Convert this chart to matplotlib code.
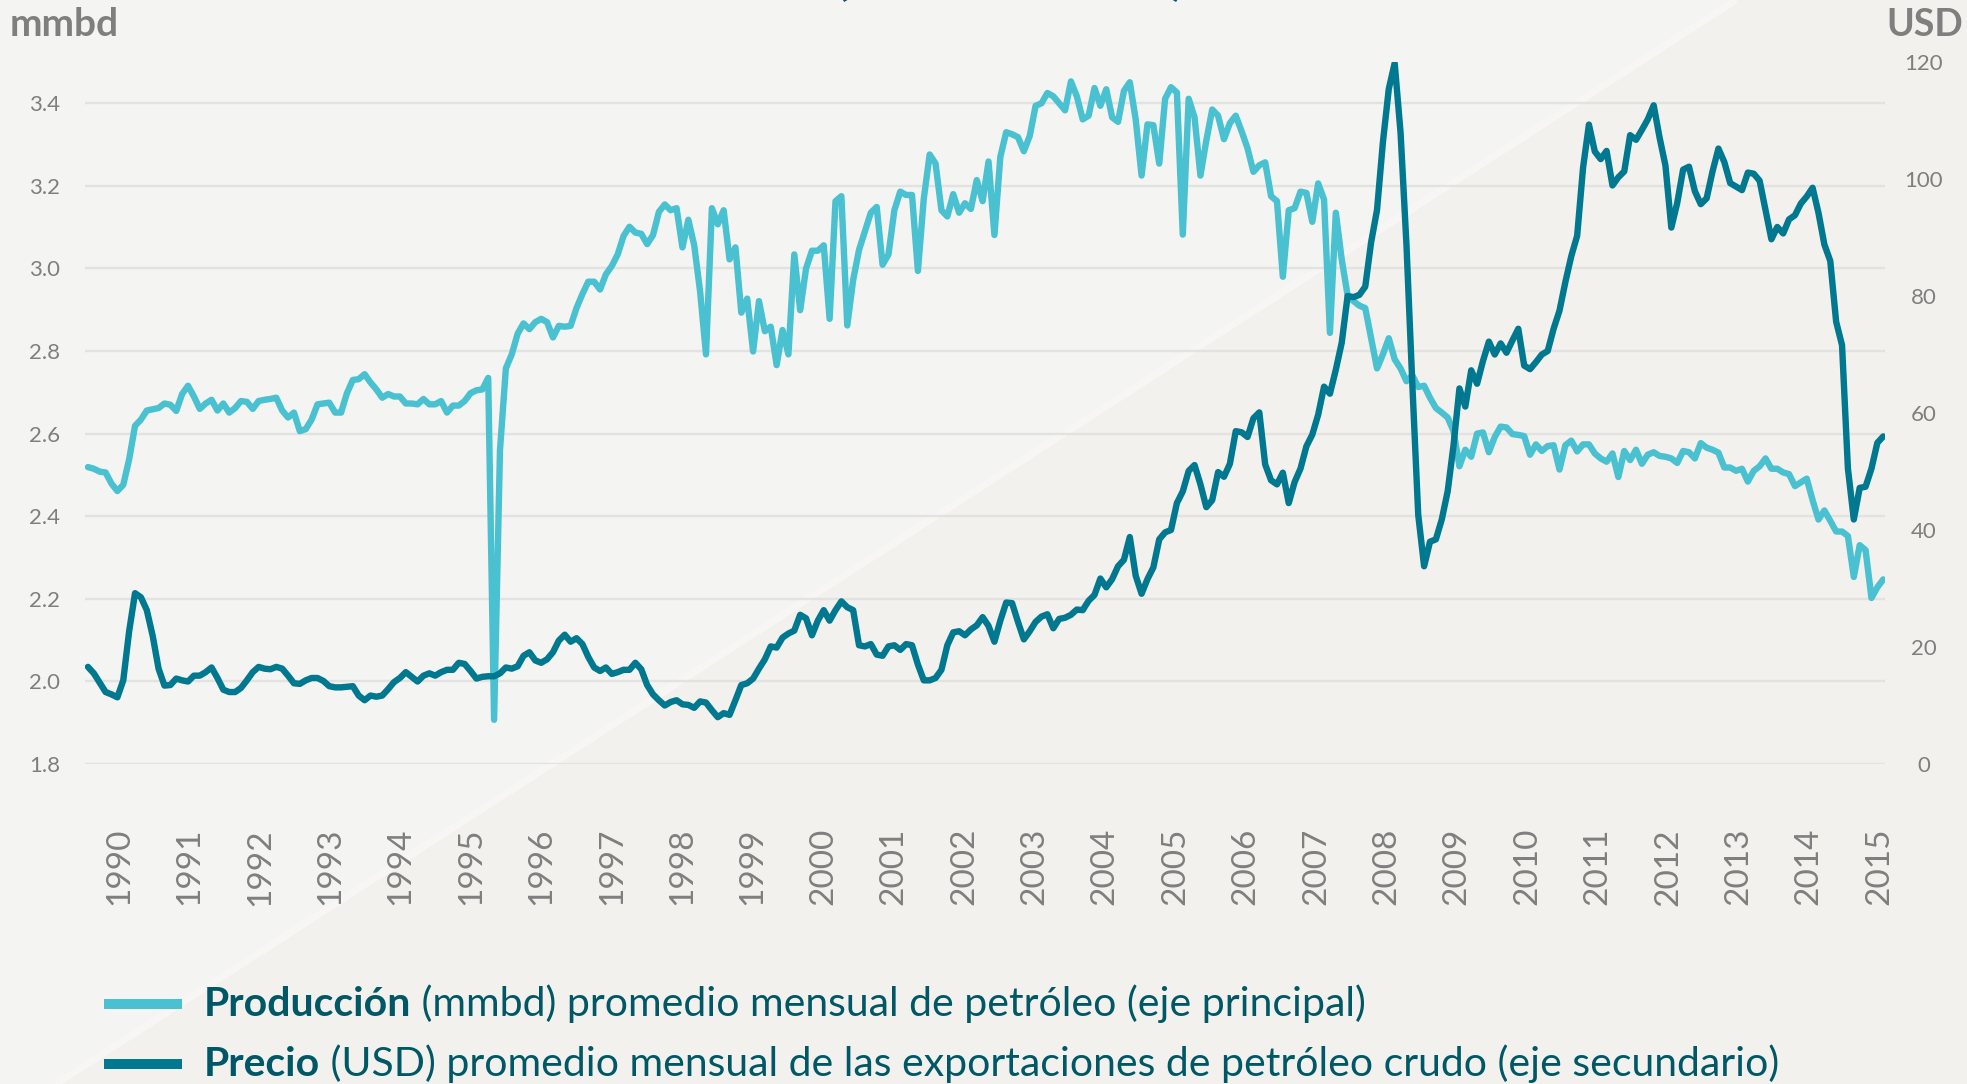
import matplotlib
matplotlib.use('Agg')
import matplotlib.pyplot as plt
import numpy as np
from matplotlib.patches import Polygon, Rectangle

# ---------------- data ----------------
years = [str(y) for y in range(1990, 2016)]

# Producción (mmbd), monthly Jan-1990 .. Jun-2015
produccion = [
    2.519, 2.515, 2.508, 2.506, 2.479, 2.461, 2.476, 2.538, 2.619, 2.634, 2.656, 2.659,
    2.662, 2.673, 2.670, 2.655, 2.696, 2.716, 2.690, 2.660, 2.673, 2.682, 2.656, 2.673,
    2.651, 2.662, 2.679, 2.677, 2.660, 2.679, 2.682, 2.684, 2.687, 2.656, 2.639, 2.651,
    2.606, 2.611, 2.634, 2.671, 2.673, 2.675, 2.651, 2.651, 2.698, 2.730, 2.732, 2.744,
    2.724, 2.707, 2.687, 2.696, 2.690, 2.690, 2.673, 2.673, 2.671, 2.684, 2.671, 2.671,
    2.679, 2.651, 2.668, 2.668, 2.679, 2.698, 2.705, 2.707, 2.735, 1.907, 2.560, 2.758,
    2.792, 2.842, 2.867, 2.853, 2.870, 2.878, 2.870, 2.833, 2.861, 2.859, 2.861, 2.904,
    2.938, 2.968, 2.968, 2.949, 2.986, 3.006, 3.034, 3.079, 3.101, 3.087, 3.084, 3.059,
    3.081, 3.137, 3.155, 3.141, 3.146, 3.051, 3.118, 3.056, 2.944, 2.792, 3.146, 3.107,
    3.141, 3.022, 3.051, 2.893, 2.927, 2.799, 2.921, 2.848, 2.859, 2.766, 2.851, 2.792,
    3.034, 2.899, 3.000, 3.043, 3.043, 3.056, 2.878, 3.163, 3.175, 2.862, 2.972, 3.045,
    3.090, 3.135, 3.149, 3.009, 3.034, 3.141, 3.186, 3.178, 3.178, 2.994, 3.169, 3.276,
    3.254, 3.141, 3.126, 3.180, 3.135, 3.158, 3.144, 3.214, 3.163, 3.259, 3.081, 3.270,
    3.330, 3.325, 3.318, 3.284, 3.321, 3.394, 3.400, 3.425, 3.417, 3.400, 3.383, 3.453,
    3.417, 3.361, 3.370, 3.437, 3.394, 3.434, 3.366, 3.355, 3.430, 3.451, 3.361, 3.225,
    3.349, 3.347, 3.254, 3.411, 3.439, 3.426, 3.082, 3.411, 3.366, 3.225, 3.310, 3.385,
    3.370, 3.313, 3.352, 3.370, 3.332, 3.291, 3.234, 3.250, 3.257, 3.175, 3.163, 2.980,
    3.141, 3.146, 3.186, 3.183, 3.113, 3.206, 3.167, 2.844, 3.135, 3.022, 2.935, 2.921,
    2.910, 2.904, 2.831, 2.758, 2.792, 2.831, 2.780, 2.758, 2.727, 2.741, 2.713, 2.716,
    2.687, 2.662, 2.651, 2.639, 2.606, 2.521, 2.561, 2.544, 2.600, 2.603, 2.555, 2.592,
    2.617, 2.615, 2.599, 2.597, 2.594, 2.549, 2.574, 2.558, 2.570, 2.572, 2.513, 2.572,
    2.583, 2.557, 2.574, 2.574, 2.552, 2.540, 2.532, 2.552, 2.495, 2.558, 2.536, 2.561,
    2.527, 2.549, 2.555, 2.546, 2.544, 2.540, 2.529, 2.558, 2.555, 2.540, 2.577, 2.566,
    2.561, 2.554, 2.518, 2.518, 2.510, 2.515, 2.484, 2.510, 2.521, 2.540, 2.515, 2.515,
    2.506, 2.502, 2.473, 2.482, 2.491, 2.439, 2.392, 2.414, 2.389, 2.363, 2.363, 2.352,
    2.253, 2.330, 2.318, 2.202, 2.228, 2.247,
]

# Precio (USD), monthly Jan-1990 .. Jun-2015
precio = [
    16.6, 15.5, 13.9, 12.3, 11.9, 11.4, 14.3, 22.7, 29.2, 28.5, 26.3, 21.9,
    16.3, 13.4, 13.5, 14.6, 14.3, 14.1, 15.1, 15.1, 15.7, 16.5, 14.7, 12.7,
    12.3, 12.3, 13.0, 14.3, 15.7, 16.6, 16.3, 16.2, 16.6, 16.3, 15.1, 13.8,
    13.7, 14.3, 14.7, 14.7, 14.2, 13.3, 13.1, 13.1, 13.2, 13.3, 11.7, 10.9,
    11.7, 11.5, 11.7, 12.8, 14.0, 14.7, 15.7, 14.9, 14.1, 15.1, 15.5, 15.1,
    15.7, 16.1, 16.1, 17.3, 17.1, 15.9, 14.6, 14.9, 15.0, 15.0, 15.5, 16.5,
    16.3, 16.7, 18.5, 19.1, 17.7, 17.3, 17.9, 19.1, 21.1, 22.1, 20.9, 21.5,
    20.5, 18.3, 16.5, 15.9, 16.5, 15.4, 15.7, 16.1, 16.1, 17.3, 16.2, 13.5,
    11.9, 10.9, 10.0, 10.6, 10.9, 10.2, 10.1, 9.6, 10.7, 10.5, 9.2, 8.0,
    8.7, 8.4, 10.9, 13.5, 13.8, 14.6, 16.3, 17.9, 20.1, 19.9, 21.6, 22.3,
    22.8, 25.5, 24.9, 22.0, 24.5, 26.3, 24.5, 26.3, 27.8, 26.8, 26.3, 20.3,
    20.1, 20.5, 18.7, 18.5, 20.1, 20.3, 19.5, 20.5, 20.3, 17.0, 14.3, 14.3,
    14.7, 16.1, 20.3, 22.5, 22.7, 22.0, 23.0, 23.7, 25.1, 23.6, 20.9, 24.5,
    27.6, 27.5, 24.3, 21.3, 22.7, 24.3, 25.2, 25.6, 23.2, 24.8, 25.0, 25.5,
    26.4, 26.3, 27.9, 28.9, 31.7, 30.2, 31.6, 33.8, 34.9, 38.8, 32.2, 29.1,
    31.6, 33.6, 38.4, 39.6, 40.0, 44.6, 46.6, 50.1, 51.1, 47.8, 43.9, 45.1,
    49.9, 49.1, 51.3, 56.9, 56.7, 55.9, 59.1, 60.1, 51.2, 48.5, 47.8, 49.8,
    44.6, 48.2, 50.5, 54.3, 56.3, 59.7, 64.5, 63.3, 67.4, 72.0, 80.0, 79.8,
    80.2, 81.6, 89.2, 94.7, 106.3, 115.4, 119.8, 107.9, 88.8, 64.9, 42.6, 33.8,
    38.0, 38.4, 41.8, 46.6, 54.5, 64.2, 61.1, 67.3, 65.0, 68.9, 72.2, 70.0,
    71.9, 70.3, 72.4, 74.4, 68.1, 67.5, 68.7, 70.0, 70.6, 74.4, 77.5, 82.4,
    86.8, 90.3, 101.9, 109.3, 104.7, 103.4, 104.8, 98.9, 100.3, 101.3, 107.5, 106.7,
    108.4, 110.2, 112.6, 107.1, 102.3, 91.7, 95.9, 101.6, 102.1, 97.9, 95.7, 96.7,
    101.3, 105.2, 102.9, 99.3, 98.7, 98.1, 101.1, 100.9, 99.7, 94.7, 89.7, 91.8,
    90.7, 93.1, 93.8, 95.8, 97.0, 98.5, 94.2, 88.8, 86.0, 75.6, 71.6, 50.5,
    41.8, 47.2, 47.4, 50.5, 54.9, 56.0,
]

left_ticks = [1.8, 2.0, 2.2, 2.4, 2.6, 2.8, 3.0, 3.2, 3.4]
right_ticks = [0, 20, 40, 60, 80, 100, 120]

title_clipped = "(1990-2015)"
label_prod_bold = "Producción"
label_prod_rest = " (mmbd) promedio mensual de petróleo (eje principal)"
label_price_bold = "Precio"
label_price_rest = " (USD) promedio mensual de las exportaciones de petróleo crudo (eje secundario)"

# ---------------- style ----------------
FONT = ['Lato', 'DejaVu Sans']
plt.rcParams['font.family'] = FONT
C_PROD = '#4AC1D0'
C_PRICE = '#00788F'
C_TEXT = '#7F7F7F'
C_LEG = '#005866'
BG = '#F4F4F2'

W, H = 1967, 1084
fig = plt.figure(figsize=(W / 100, H / 100), dpi=100)
fig.patch.set_facecolor(BG)

# subtle diagonal background split, drawn in a full-figure background axes
bg = fig.add_axes([0, 0, 1, 1], zorder=-10)
bg.set_xlim(0, 1)
bg.set_ylim(0, 1)
bg.axis('off')
x_bot, x_top = 56 / W, 1736 / W
bg.add_patch(Polygon([(x_bot, 0), (x_top, 1), (1, 1), (1, 0)],
                     facecolor='#F3F1ED', edgecolor='none'))
bg.plot([x_bot, x_top], [0, 1], color='#F8F7F5', lw=5, alpha=0.9,
        solid_capstyle='butt')

# ---------------- axes ----------------
n = len(produccion)
x = np.arange(n)
left_px, right_px, top_px, bot_px = 85, 1885, 62, 764
ax = fig.add_axes([left_px / W, 1 - bot_px / H, (right_px - left_px) / W, (bot_px - top_px) / H],
                  zorder=1)
ax.set_facecolor('none')
ax.set_xlim(-0.5, n - 0.7)
ax.set_ylim(1.8, 3.5)
ax.set_yticks(left_ticks)
ax.set_yticklabels([f"{v:.1f}" for v in left_ticks])
ax.grid(axis='y', color='#E2E2E0', lw=1.7, zorder=0)
ax.set_axisbelow(True)
for s in ax.spines.values():
    s.set_visible(False)
ax.tick_params(axis='y', length=0, pad=18, labelsize=16, labelcolor=C_TEXT)

xt = [5.3 + 11.96 * k for k in range(len(years))]
ax.set_xticks(xt)
ax.set_xticklabels(years, rotation=90, va='top', ha='center')
ax.tick_params(axis='x', length=0, pad=46, labelsize=24, labelcolor=C_TEXT)

ax.plot(x, produccion, color=C_PROD, lw=4.6, solid_joinstyle='round', solid_capstyle='round', zorder=3)

ax2 = ax.twinx()
ax2.set_ylim(0, 120)
ax2.set_yticks(right_ticks)
ax2.set_yticklabels([str(v) for v in right_ticks])
for s in ax2.spines.values():
    s.set_visible(False)
ax2.tick_params(axis='y', length=0, pad=28, labelsize=16, labelcolor=C_TEXT)
for lab in ax2.get_yticklabels():
    lab.set_horizontalalignment('center')
ax2.plot(x, precio, color=C_PRICE, lw=4.6, solid_joinstyle='round', solid_capstyle='round', zorder=3)

# axis unit titles
fig.text(10 / W, 1 - 25 / H, 'mmbd', ha='left', va='center', fontsize=28,
         fontweight='bold', color=C_TEXT)
fig.text(1963 / W, 1 - 25 / H, 'USD', ha='right', va='center', fontsize=27,
         fontweight='bold', color=C_TEXT)

# title, mostly cut off by the top edge
fig.text(1010 / W, 1 + 8 / H, title_clipped, ha='center', va='baseline',
         fontsize=46, fontweight='bold', color=C_LEG)

# ---------------- legend ----------------
renderer = fig.canvas.get_renderer()
legend_rows = [(1004, C_PROD, label_prod_bold, label_prod_rest),
               (1064, C_PRICE, label_price_bold, label_price_rest)]
for ypx, col, bold, rest in legend_rows:
    yf = 1 - ypx / H
    fig.patches.append(Rectangle((104 / W, yf - 5 / H), 78 / W, 10 / H,
                                 transform=fig.transFigure, facecolor=col,
                                 edgecolor='none'))
    t1 = fig.text(204 / W, yf, bold, ha='left', va='center', fontsize=29.5,
                  fontweight='bold', color=C_LEG)
    bb = t1.get_window_extent(renderer=renderer)
    fig.text(bb.x1 / W, yf, rest, ha='left', va='center', fontsize=29.5,
             color=C_LEG)

fig.savefig('out.png', dpi=100, facecolor=fig.get_facecolor())
